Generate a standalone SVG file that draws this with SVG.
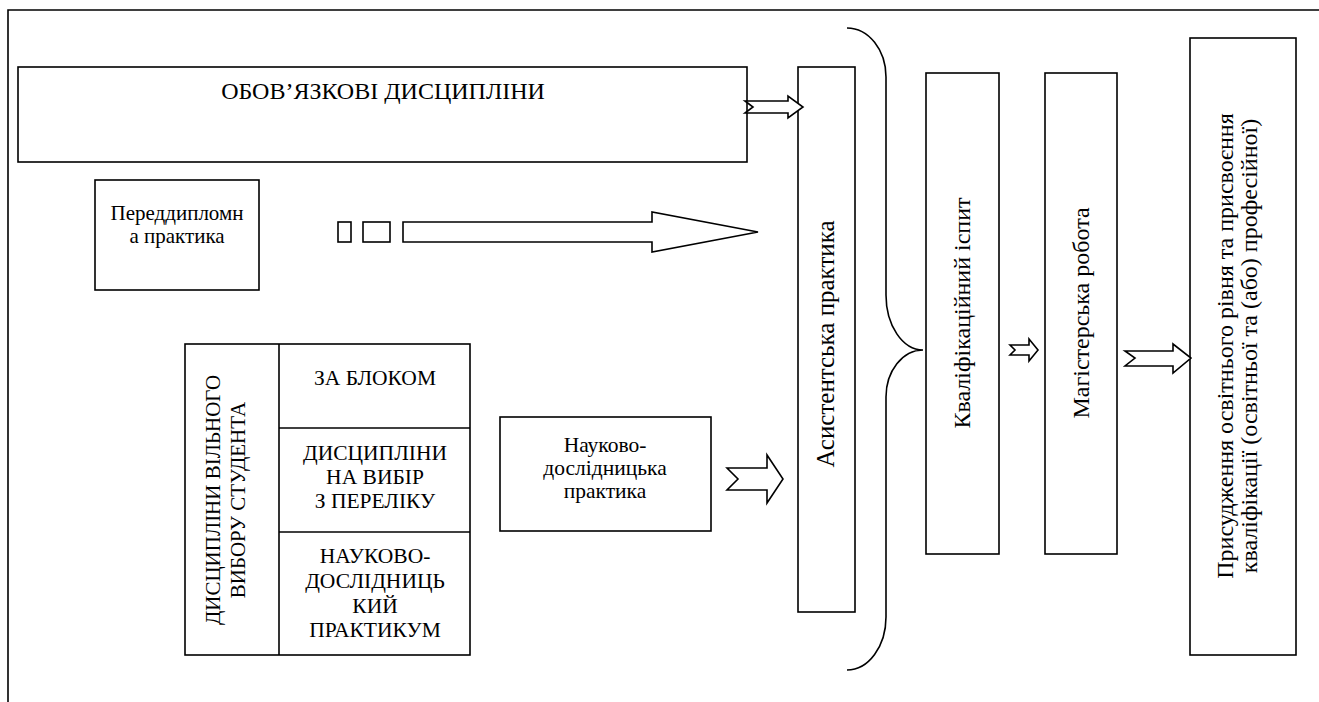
<svg xmlns="http://www.w3.org/2000/svg" width="1319" height="702" viewBox="0 0 1319 702">
<style>
  .box{fill:#fff;stroke:#000;stroke-width:1.6}
  .line{fill:none;stroke:#000;stroke-width:1.6}
  .arr{fill:#fff;stroke:#000;stroke-width:1.6;stroke-linejoin:miter}
  .t{font-family:'Liberation Serif','Times New Roman',Times,'DejaVu Serif',serif;font-size:21.5px;fill:#000;text-anchor:middle}
  .v{font-size:24px}
</style>
<rect x="0" y="0" width="1319" height="702" fill="#fff"/>
<path class="line" d="M8,702 V10 H1319" stroke-width="2.4"/>

<g id="obov">
  <rect class="box" x="18" y="67" width="729" height="95"/>
  <text class="t" x="383" y="99" style="font-size:24px">ОБОВ’ЯЗКОВІ ДИСЦИПЛІНИ</text>
</g>

<g id="peredd">
  <rect class="box" x="95" y="180" width="164" height="110"/>
  <text class="t" x="177" y="220" style="font-size:21px">Переддипломн</text>
  <text class="t" x="177" y="243" style="font-size:21px">а практика</text>
</g>

<g id="vilnyi">
  <rect class="box" x="185" y="344" width="285" height="311"/>
  <line class="line" x1="279" y1="344" x2="279" y2="655"/>
  <line class="line" x1="279" y1="428" x2="470" y2="428"/>
  <line class="line" x1="279" y1="532" x2="470" y2="532"/>
  <g transform="translate(232,500) rotate(-90)">
    <text class="t" x="0" y="-12" style="font-size:21px">ДИСЦИПЛІНИ ВІЛЬНОГО</text>
    <text class="t" x="0" y="13" style="font-size:21px">ВИБОРУ СТУДЕНТА</text>
  </g>
  <text class="t" x="375" y="385">ЗА БЛОКОМ</text>
  <text class="t" x="375" y="460">ДИСЦИПЛІНИ</text>
  <text class="t" x="375" y="484">НА ВИБІР</text>
  <text class="t" x="375" y="508">З ПЕРЕЛІКУ</text>
  <text class="t" x="375" y="563">НАУКОВО-</text>
  <text class="t" x="375" y="588">ДОСЛІДНИЦЬ</text>
  <text class="t" x="375" y="613">КИЙ</text>
  <text class="t" x="375" y="637">ПРАКТИКУМ</text>
</g>

<g id="naukova">
  <rect class="box" x="500" y="417" width="211" height="114"/>
  <text class="t" x="605" y="452">Науково-</text>
  <text class="t" x="605" y="475">дослідницька</text>
  <text class="t" x="605" y="498">практика</text>
</g>

<g id="asyst">
  <rect class="box" x="798" y="67" width="57" height="545"/>
  <text class="t" transform="translate(826,344) rotate(-90)" x="0" y="8" style="font-size:25px">Асистентська практика</text>
</g>

<g id="kval">
  <rect class="box" x="926" y="73" width="73" height="481"/>
  <text class="t v" transform="translate(962,313) rotate(-90)" x="0" y="8">Кваліфікаційний іспит</text>
</g>

<g id="mag">
  <rect class="box" x="1045" y="73" width="72" height="481"/>
  <text class="t v" transform="translate(1081,313) rotate(-90)" x="0" y="8">Магістерська робота</text>
</g>

<g id="prysud">
  <rect class="box" x="1190" y="38" width="106" height="617"/>
  <g transform="translate(1243,346) rotate(-90)">
    <text class="t v" x="0" y="-10">Присудження освітнього рівня та присвоєння</text>
    <text class="t v" x="0" y="14">кваліфікації (освітньої та (або) професійної)</text>
  </g>
</g>

<g id="connectors">
  <path class="arr" d="M745,101 H788 V96 L803,107 L788,118 V113 H745 L753,107 Z"/>
  <rect class="box" x="338" y="222" width="13" height="20"/>
  <rect class="box" x="363" y="222" width="27" height="20"/>
  <path class="arr" d="M403,222 H652 V212 L758,232 L652,252 V242 H403 Z"/>
  <path class="arr" d="M727,468 H767 V455 L783,479 L767,503 V490 H727 L738,479 Z"/>
  <path class="arr" d="M1010,345 H1029 V339 L1038,350 L1029,361 V355 H1010 L1015,350 Z"/>
  <path class="arr" d="M1125,351 H1173 V344 L1191,358 L1173,373 V366 H1125 L1135,358 Z"/>
  <path class="line" d="M847,28 A39,49 0 0 1 886,77 V295 A37,55 0 0 0 923,350 A37,47 0 0 0 886,397 V617 A39,53 0 0 1 847,670"/>
</g>
</svg>
